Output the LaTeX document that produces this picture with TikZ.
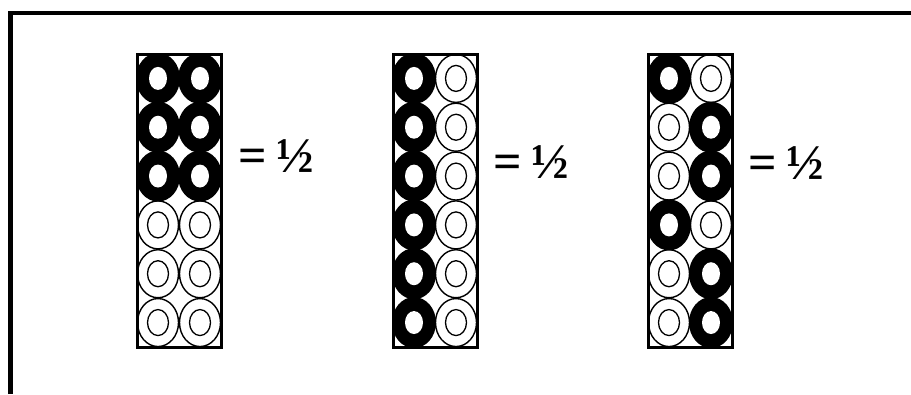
\documentclass[tikz,border=0pt]{standalone}
\usepackage{fontspec}
\setmainfont{Liberation Serif}
\tikzset{
  frameline/.style={line width=4.5pt},
  boxline/.style={line width=3pt},
  lbl/.style={font=\bfseries\fontsize{50}{50}\selectfont, anchor=base west, inner sep=0pt}
}
\newcommand\blackcell[2]{%
  \fill[black] (#1,#2) ellipse [x radius=22pt, y radius=25.5pt];
  \fill[white] (#1,#2) ellipse [x radius=9pt, y radius=11.5pt];
}
\newcommand\whitecell[2]{%
  \draw[line width=1.4pt, fill=white] (#1,#2) ellipse [x radius=20.5pt, y radius=24pt];
  \draw[line width=1.3pt] (#1,#2) ellipse [x radius=10.5pt, y radius=13pt];
}
% #1 = left x of box, #2 = pattern list of 12 letters (row-major: L R)
\newcommand\drawbox[2]{%
  \begin{scope}
    \clip (#1,54) rectangle (#1+84,347);
    \fill[white] (#1,54) rectangle (#1+84,347);
    \foreach \kind [count=\i from 0] in {#2} {
      \pgfmathtruncatemacro\row{\i/2}
      \pgfmathtruncatemacro\col{mod(\i,2)}
      \pgfmathsetmacro\cx{#1+21+42*\col}
      \pgfmathsetmacro\cy{54+24.4+48.83*\row}
      \ifnum\pdfstrcmp{\kind}{W}=0 \whitecell{\cx}{\cy}\fi
    }
    \foreach \kind [count=\i from 0] in {#2} {
      \pgfmathtruncatemacro\row{\i/2}
      \pgfmathtruncatemacro\col{mod(\i,2)}
      \pgfmathsetmacro\cx{#1+21+42*\col}
      \pgfmathsetmacro\cy{54+24.4+48.83*\row}
      \ifnum\pdfstrcmp{\kind}{B}=0 \blackcell{\cx}{\cy}\fi
    }
  \end{scope}
  \draw[boxline] (#1,54) rectangle (#1+84,347);
}
\begin{document}
\begin{tikzpicture}[x=1pt,y=-1pt]
\useasboundingbox (0,0) rectangle (911,394);
\fill[white] (0,0) rectangle (911,394);
\coordinate (fb) at (10.5,394);
\coordinate (fc) at (10.5,13);
\coordinate (fr) at (911,13);
\draw[frameline] (fb) -- (fc) -- (fr);

\drawbox{137}{B,B,B,B,B,B,W,W,W,W,W,W}
\drawbox{393}{B,W,B,W,B,W,B,W,B,W,B,W}
\drawbox{648}{B,W,W,B,W,B,B,W,W,B,W,B}

\node[lbl] (t1) at (238,172) {=\kern0.2em ½};
\node[lbl] (t2) at (493,178) {=\kern0.2em ½};
\node[lbl] (t3) at (748,179) {=\kern0.2em ½};
\end{tikzpicture}
\end{document}
